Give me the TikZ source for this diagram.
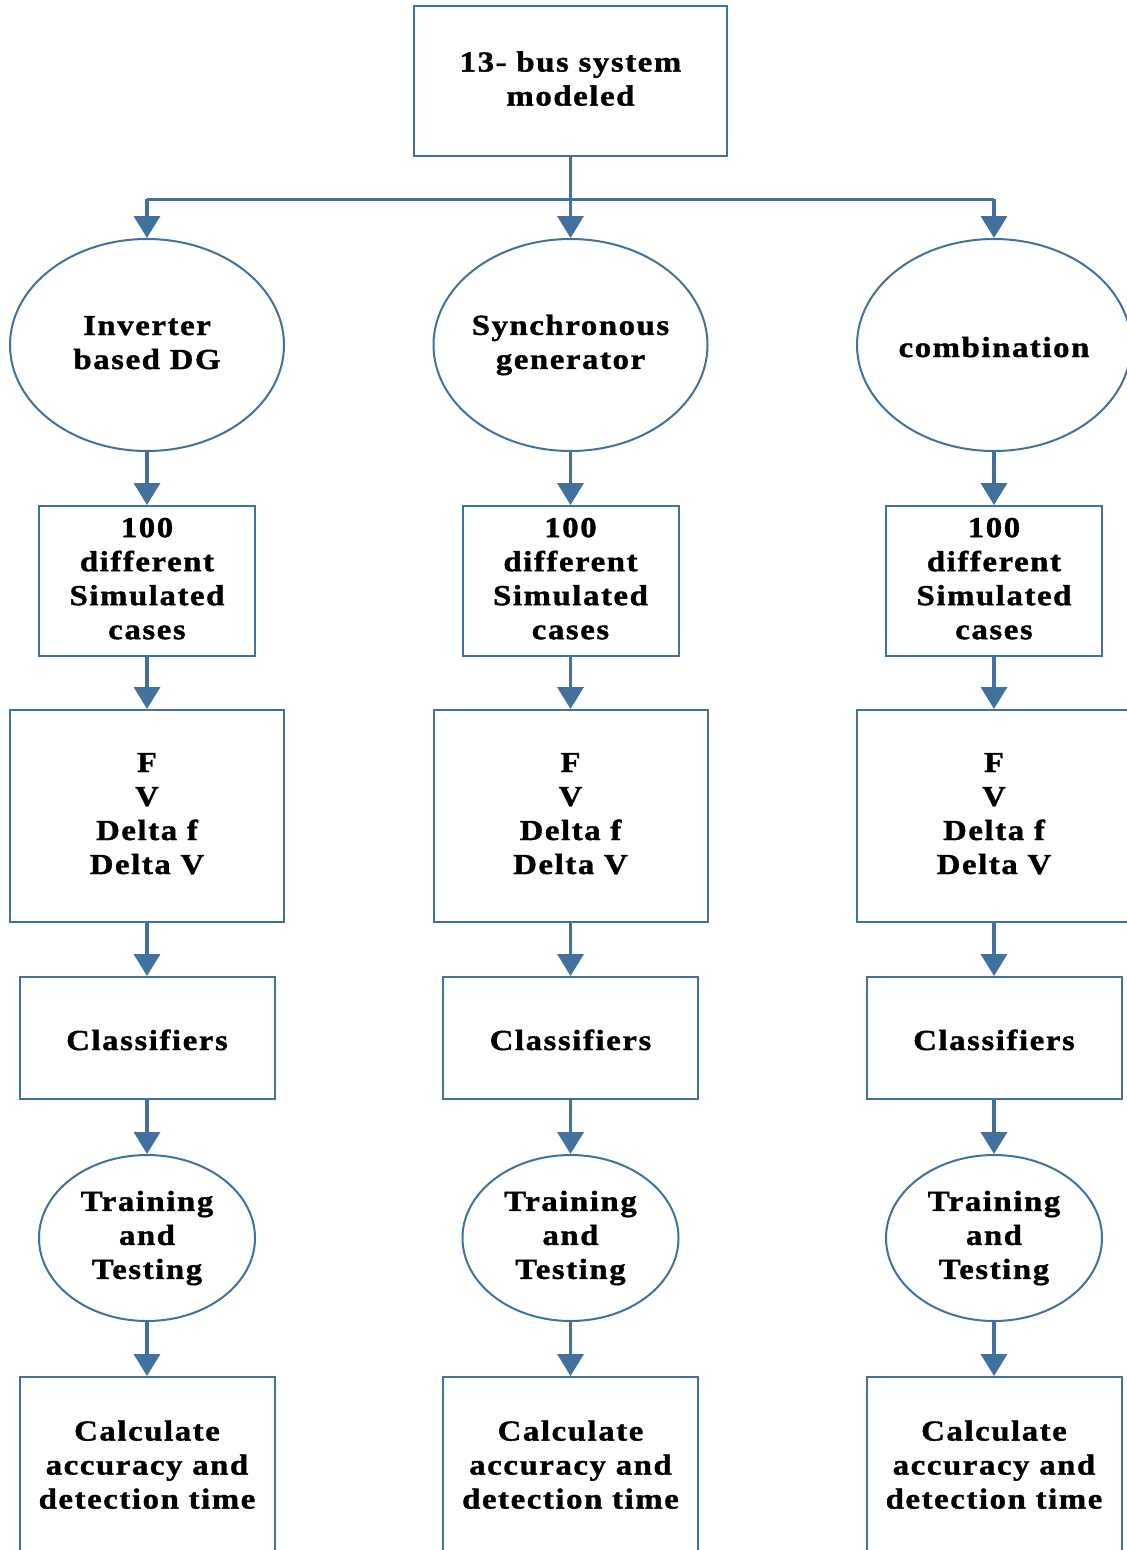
\documentclass[tikz,border=0pt]{standalone}
\usepackage{fontspec}
\setmainfont{Liberation Serif}[LetterSpace=5.5, FakeStretch=1.13, FakeBold=1.3]
\usetikzlibrary{shapes.geometric,arrows.meta}
\definecolor{flowblue}{HTML}{41719C}
% line strut that keeps multi-line labels vertically balanced
\newcommand{\linestrut}{\rule[-5pt]{0pt}{34pt}}
\begin{document}
\begin{tikzpicture}[x=1pt,y=-1pt,
  every node/.style={font=\fontsize{29}{34}\selectfont\bfseries, align=center, inner sep=0pt, text=black,
    execute at begin node=\linestrut, execute at end node=\linestrut},
  box/.style={draw=flowblue, line width=2pt, rectangle, fill=white},
  oval/.style={draw=flowblue, line width=2pt, ellipse, fill=white, inner xsep=-20pt},
  flow/.style={draw=flowblue, line width=3.5pt, -{Triangle[length=22pt,width=26pt]}},
  bar/.style={draw=flowblue, line width=3pt}]
\useasboundingbox (0,0) rectangle (1127,1550);
\clip (0,0) rectangle (1127,1550);

% head of the chart
\node[box, minimum width=313pt, minimum height=150pt] (top) at (570.5,81) {13- bus system\\modeled};

% three identical columns
\foreach \c/\x/\src in {a/147/{Inverter\\based DG}, b/570.5/{Synchronous\\generator}, c/994/{combination}} {
  \node[oval, minimum width=274pt, minimum height=212pt] (src\c) at (\x,345) {\src};
  \node[box, minimum width=216pt, minimum height=150pt] (cases\c) at (\x,581) {100\\different\\Simulated\\cases};
  \node[box, minimum width=274pt, minimum height=212pt] (feat\c) at (\x,816) {F\\V\\Delta f\\Delta V};
  \node[box, minimum width=255pt, minimum height=122pt] (clf\c) at (\x,1038) {Classifiers};
  \node[oval, minimum width=216pt, minimum height=166pt] (train\c) at (\x,1238) {Training\\and\\Testing};
  \node[box, minimum width=255pt, minimum height=180pt] (calc\c) at (\x,1467) {Calculate\\accuracy and\\detection time};
  \coordinate (tap\c) at (\x,199);
  \draw[flow] (src\c) -- (cases\c);
  \draw[flow] (cases\c) -- (feat\c);
  \draw[flow] (feat\c) -- (clf\c);
  \draw[flow] (clf\c) -- (train\c);
  \draw[flow] (train\c) -- (calc\c);
}

% distribution bar from the head to the three branches
\draw[bar] (tapa) -- (tapc);
\draw[flow] (top) -- (srcb);
\draw[flow] (tapa) -- (srca);
\draw[flow] (tapc) -- (srcc);
\end{tikzpicture}
\end{document}
